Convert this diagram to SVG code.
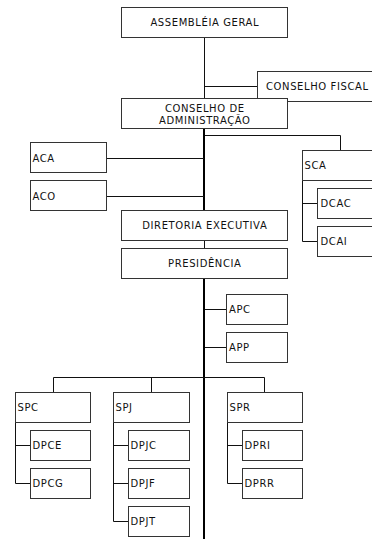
<svg xmlns="http://www.w3.org/2000/svg" width="372" height="539" viewBox="0 0 372 539">
<style>
.b{fill:#fff;stroke:#333;stroke-width:1}
.t{font-family:"DejaVu Sans",Verdana,sans-serif;font-size:10px;letter-spacing:0.6px;fill:#111}
.c{text-anchor:middle}
.l{fill:none;stroke:#111;stroke-width:1}
.m{fill:none;stroke:#000;stroke-width:2}
</style>
<rect width="372" height="539" fill="#fff"/>
<g id="connectors">
<path class="l" d="M204.5 37V98"/>
<path class="m" d="M204 128V211"/>
<path class="l" d="M204.5 240V249"/>
<path class="m" d="M204 278V539"/>
<path class="l" d="M204 86.5H257.5"/>
<path class="l" d="M205 135.5H340.5V150.5"/>
<path class="l" d="M106.5 158.5H204"/>
<path class="l" d="M106.5 196.5H204"/>
<path class="l" d="M302.5 180.5V241.5H317.5M302.5 203.5H317.5"/>
<path class="l" d="M205 309.5H226.5"/>
<path class="l" d="M205 347.5H226.5"/>
<path class="l" d="M53.5 392.5V377.5H264.5V392.5M151.5 377.5V392.5"/>
<path class="l" d="M15.5 422.5V483.5H30.5M15.5 445.5H30.5"/>
<path class="l" d="M113.5 422.5V521.5H128.5M113.5 445.5H128.5M113.5 483.5H128.5"/>
<path class="l" d="M227.5 422.5V483.5H242.5M227.5 445.5H242.5"/>
</g>
<g id="ag"><rect class="b" x="121.5" y="7.5" width="166" height="30"/><text class="t c" x="204.8" y="26">ASSEMBLÉIA GERAL</text></g>
<g id="cf"><rect class="b" x="257.5" y="71.5" width="120" height="30"/><text class="t" x="266" y="90">CONSELHO FISCAL</text></g>
<g id="ca"><rect class="b" x="121.5" y="98.5" width="166" height="30"/><text class="t c" x="204.8" y="111.5">CONSELHO DE</text><text class="t c" x="204.8" y="124">ADMINISTRAÇÃO</text></g>
<g id="aca"><rect class="b" x="30.5" y="142.5" width="76" height="30"/><text class="t" x="32.5" y="162">ACA</text></g>
<g id="aco"><rect class="b" x="30.5" y="180.5" width="76" height="30"/><text class="t" x="32.5" y="200">ACO</text></g>
<g id="sca"><rect class="b" x="302.5" y="150.5" width="80" height="30"/><text class="t" x="304.5" y="169">SCA</text></g>
<g id="dcac"><rect class="b" x="317.5" y="188.5" width="70" height="30"/><text class="t" x="320.5" y="207">DCAC</text></g>
<g id="dcai"><rect class="b" x="317.5" y="226.5" width="70" height="30"/><text class="t" x="320.5" y="245">DCAI</text></g>
<g id="de"><rect class="b" x="121.5" y="210.5" width="166" height="30"/><text class="t c" x="204.8" y="229">DIRETORIA EXECUTIVA</text></g>
<g id="pres"><rect class="b" x="121.5" y="248.5" width="166" height="30"/><text class="t c" x="204.8" y="267">PRESIDÊNCIA</text></g>
<g id="apc"><rect class="b" x="226.5" y="294.5" width="61" height="30"/><text class="t" x="229" y="313">APC</text></g>
<g id="app"><rect class="b" x="226.5" y="332.5" width="61" height="30"/><text class="t" x="229" y="351">APP</text></g>
<g id="spc"><rect class="b" x="15.5" y="392.5" width="75" height="30"/><text class="t" x="17.5" y="411">SPC</text></g>
<g id="spj"><rect class="b" x="113.5" y="392.5" width="76" height="30"/><text class="t" x="115.5" y="411">SPJ</text></g>
<g id="spr"><rect class="b" x="227.5" y="392.5" width="75" height="30"/><text class="t" x="229.5" y="411">SPR</text></g>
<g id="dpce"><rect class="b" x="30.5" y="430.5" width="60" height="30"/><text class="t" x="32.5" y="449">DPCE</text></g>
<g id="dpcg"><rect class="b" x="30.5" y="468.5" width="60" height="30"/><text class="t" x="32.5" y="487">DPCG</text></g>
<g id="dpjc"><rect class="b" x="128.5" y="430.5" width="61" height="30"/><text class="t" x="130.5" y="449">DPJC</text></g>
<g id="dpjf"><rect class="b" x="128.5" y="468.5" width="61" height="30"/><text class="t" x="130.5" y="487">DPJF</text></g>
<g id="dpjt"><rect class="b" x="128.5" y="506.5" width="61" height="30"/><text class="t" x="130.5" y="525">DPJT</text></g>
<g id="dpri"><rect class="b" x="242.5" y="430.5" width="60" height="30"/><text class="t" x="244.5" y="449">DPRI</text></g>
<g id="dprr"><rect class="b" x="242.5" y="468.5" width="60" height="30"/><text class="t" x="244.5" y="487">DPRR</text></g>
</svg>
